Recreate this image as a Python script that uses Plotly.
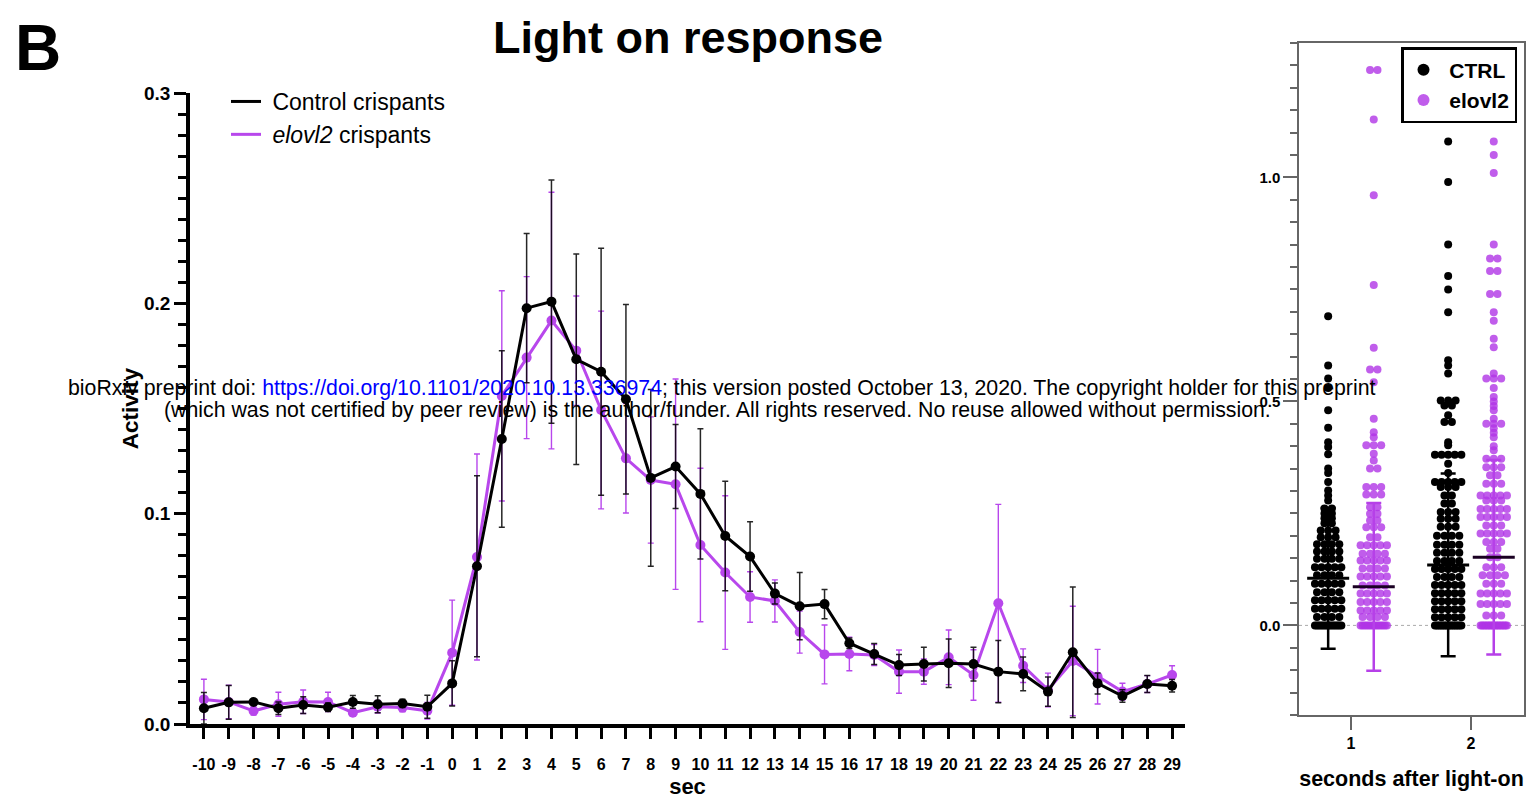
import plotly.graph_objects as go

# ---------------- Left panel data (Light on response) ----------------
sec = list(range(-10, 30))
ctrl_mean = [0.0075, 0.0103, 0.0105, 0.0075, 0.0090, 0.0080, 0.0105, 0.0094, 0.0098, 0.0082,
             0.0193, 0.0750, 0.1355, 0.1977, 0.2008, 0.1734, 0.1675, 0.1544, 0.1170, 0.1224,
             0.1094, 0.0894, 0.0796, 0.0620, 0.0560, 0.0570, 0.0384, 0.0333, 0.0280, 0.0285,
             0.0289, 0.0285, 0.0249, 0.0238, 0.0154, 0.0341, 0.0193, 0.0133, 0.0190, 0.0182]
ctrl_err = [0.0075, 0.0080, 0.0010, 0.0030, 0.0040, 0.0020, 0.0030, 0.0040, 0.0020, 0.0055,
            0.0108, 0.0430, 0.0420, 0.0355, 0.0578, 0.0500, 0.0587, 0.0450, 0.0420, 0.0200,
            0.0310, 0.0260, 0.0165, 0.0050, 0.0160, 0.0070, 0.0025, 0.0050, 0.0050, 0.0080,
            0.0115, 0.0080, 0.0148, 0.0080, 0.0070, 0.0310, 0.0050, 0.0030, 0.0040, 0.0030]
elovl_mean = [0.0117, 0.0105, 0.0062, 0.0094, 0.0106, 0.0105, 0.0054, 0.0082, 0.0078, 0.0063,
              0.0339, 0.0794, 0.1560, 0.1742, 0.1918, 0.1775, 0.1493, 0.1263, 0.1160, 0.1140,
              0.0851, 0.0720, 0.0604, 0.0585, 0.0437, 0.0331, 0.0333, 0.0328, 0.0249, 0.0249,
              0.0317, 0.0233, 0.0574, 0.0277, 0.0162, 0.0300, 0.0225, 0.0154, 0.0190, 0.0233]
elovl_err = [0.0096, 0.0080, 0.0020, 0.0057, 0.0056, 0.0046, 0.0010, 0.0030, 0.0020, 0.0040,
             0.0250, 0.0490, 0.0500, 0.0385, 0.0610, 0.0260, 0.0470, 0.0260, 0.0300, 0.0500,
             0.0365, 0.0365, 0.0120, 0.0100, 0.0100, 0.0140, 0.0080, 0.0050, 0.0103, 0.0060,
             0.0130, 0.0120, 0.0470, 0.0080, 0.0080, 0.0260, 0.0130, 0.0040, 0.0040, 0.0044]

# ---------------- Right panel data (seconds after light-on) ----------------
groups = [1, 2]
ctrl1_levels = [0.0, 0.019, 0.037, 0.056, 0.074, 0.093, 0.112, 0.130, 0.149, 0.165, 0.181, 0.197,
                0.212, 0.228, 0.239, 0.250, 0.261, 0.279, 0.290, 0.301, 0.320, 0.340, 0.350, 0.382,
                0.398, 0.409, 0.441, 0.480, 0.530, 0.551, 0.580, 0.690]
ctrl1_counts = [14, 4, 5, 5, 4, 5, 4, 5, 4, 4, 4, 3, 3, 2, 2, 2, 2, 1, 1, 1, 1, 1, 1, 1, 1, 1, 1, 1, 1, 1, 1, 1]
elovl1_levels = [0.0, 0.019, 0.033, 0.052, 0.071, 0.089, 0.109, 0.127, 0.145, 0.160, 0.179, 0.197,
                 0.219, 0.234, 0.249, 0.264, 0.292, 0.309, 0.350, 0.368, 0.383, 0.402, 0.420, 0.431,
                 0.461, 0.543, 0.571, 0.620, 0.760, 0.960, 1.129, 1.240]
elovl1_counts = [14, 4, 5, 5, 5, 4, 5, 4, 5, 4, 5, 2, 3, 2, 2, 2, 3, 3, 2, 1, 1, 3, 1, 1, 1, 1, 2, 1, 1, 1, 1, 2]
ctrl2_levels = [0.0, 0.018, 0.036, 0.054, 0.072, 0.090, 0.108, 0.126, 0.144, 0.162, 0.180, 0.200,
                0.220, 0.238, 0.253, 0.272, 0.290, 0.309, 0.320, 0.340, 0.361, 0.381, 0.402, 0.409,
                0.454, 0.469, 0.491, 0.502, 0.562, 0.580, 0.592, 0.699, 0.750, 0.780, 0.850, 0.990, 1.080]
ctrl2_counts = [16, 5, 5, 5, 5, 5, 4, 5, 4, 4, 4, 4, 3, 3, 3, 2, 2, 3, 5, 1, 1, 5, 1, 1, 2, 1, 2, 3,
                1, 1, 1, 1, 1, 1, 1, 1, 1]
elovl2_levels = [0.0, 0.022, 0.048, 0.071, 0.093, 0.112, 0.130, 0.152, 0.171, 0.186, 0.205, 0.223,
                 0.242, 0.260, 0.279, 0.290, 0.316, 0.335, 0.353, 0.372, 0.391, 0.400, 0.420, 0.430,
                 0.440, 0.450, 0.461, 0.480, 0.490, 0.500, 0.510, 0.530, 0.551, 0.562, 0.621, 0.640,
                 0.680, 0.699, 0.740, 0.791, 0.819, 0.850, 1.010, 1.050, 1.080]
elovl2_counts = [18, 3, 5, 5, 3, 4, 3, 2, 2, 3, 5, 3, 5, 5, 3, 5, 3, 2, 3, 3, 1, 1, 1, 1, 1, 3, 1, 1,
                 1, 1, 1, 1, 3, 1, 1, 1, 1, 1, 2, 2, 2, 1, 1, 1, 1]
ctrl_group_mean = [0.105, 0.135]
ctrl_group_sd = [0.157, 0.204]
elovl_group_mean = [0.086, 0.152]
elovl_group_sd = [0.187, 0.217]

BLACK = "#000000"
PURPLE = "#B847EC"
PURPLE_DOT = "rgba(176, 52, 230, 0.80)"
FONT = "Arial, Liberation Sans, sans-serif"
W, H = 1529, 803

def px_x(p):
    return p / W

def px_y(p):
    return 1 - p / H

def swarm(center, levels, counts, step=0.062, maxspan=0.22):
    xs, ys = [], []
    for v, n in zip(levels, counts):
        sp = step if n == 1 else min(step, maxspan / (n - 1))
        for i in range(n):
            xs.append(center + (i - (n - 1) / 2) * sp)
            ys.append(v)
    return xs, ys

fig = go.Figure()

# ---- left panel ----
fig.add_trace(go.Scatter(
    x=sec, y=elovl_mean, mode="lines+markers", showlegend=False,
    line=dict(color=PURPLE, width=3), marker=dict(color=PURPLE, size=10),
    error_y=dict(type="data", array=elovl_err, visible=True, color=PURPLE, thickness=1.4, width=3),
    cliponaxis=False, xaxis="x", yaxis="y"))
fig.add_trace(go.Scatter(
    x=sec, y=ctrl_mean, mode="lines+markers", showlegend=False,
    line=dict(color=BLACK, width=3), marker=dict(color=BLACK, size=10),
    error_y=dict(type="data", array=ctrl_err, visible=True, color="rgba(0,0,0,0.85)", thickness=1.5, width=3),
    cliponaxis=False, xaxis="x", yaxis="y"))
# legend entries (line only)
fig.add_trace(go.Scatter(x=[None], y=[None], mode="lines", name="&nbsp;Control crispants",
                         line=dict(color=BLACK, width=3), legend="legend", xaxis="x", yaxis="y"))
fig.add_trace(go.Scatter(x=[None], y=[None], mode="lines", name="&nbsp;<i>elovl2</i> crispants",
                         line=dict(color=PURPLE, width=3), legend="legend", xaxis="x", yaxis="y"))

# ---- right panel ----
offset = 0.19
cx, cy = [], []
ex, ey = [], []
for g, (lv, ct) in zip(groups, [(ctrl1_levels, ctrl1_counts), (ctrl2_levels, ctrl2_counts)]):
    a, b = swarm(g - offset, lv, ct)
    cx += a; cy += b
for g, (lv, ct) in zip(groups, [(elovl1_levels, elovl1_counts), (elovl2_levels, elovl2_counts)]):
    a, b = swarm(g + offset, lv, ct)
    ex += a; ey += b

fig.add_trace(go.Scatter(x=cx, y=cy, mode="markers", name="&nbsp;CTRL", legend="legend2",
                         marker=dict(color=BLACK, size=8), xaxis="x2", yaxis="y2", cliponaxis=False))
fig.add_trace(go.Scatter(x=ex, y=ey, mode="markers", name="&nbsp;elovl2", legend="legend2",
                         marker=dict(color=PURPLE_DOT, size=8), xaxis="x2", yaxis="y2", cliponaxis=False))
# mean +- SD
fig.add_trace(go.Scatter(
    x=[g - offset for g in groups], y=ctrl_group_mean, mode="markers", showlegend=False,
    marker=dict(symbol="line-ew", size=30, color=BLACK, line=dict(color=BLACK, width=3)),
    error_y=dict(type="data", array=ctrl_group_sd, visible=True, color=BLACK, thickness=2.5, width=7.5),
    xaxis="x2", yaxis="y2", cliponaxis=False))
fig.add_trace(go.Scatter(
    x=[g + offset for g in groups], y=elovl_group_mean, mode="markers", showlegend=False,
    marker=dict(symbol="line-ew", size=30, color="#1a0022", line=dict(color="#1a0022", width=3)),
    error_y=dict(type="data", array=elovl_group_sd, visible=True, color="#B640E8", thickness=2.5, width=7.5),
    xaxis="x2", yaxis="y2", cliponaxis=False))

axis_gray = "#666666"
fig.update_layout(
    template="none",
    width=W, height=H,
    margin=dict(l=0, r=0, t=0, b=0, pad=0),
    paper_bgcolor="white", plot_bgcolor="white",
    font=dict(family=FONT, color="black"),
    title=dict(text="<b>Light on response</b>", x=px_x(688), xanchor="center",
               y=px_y(37), yanchor="middle", yref="container",
               font=dict(size=45, family=FONT, color="black")),
    xaxis=dict(domain=[px_x(190), px_x(1185)], range=[-10.56, 29.52], automargin=False,
               tickvals=sec, ticktext=[str(s) for s in sec],
               ticks="outside", ticklen=11, tickwidth=3, tickcolor="black",
               ticklabelstandoff=12,
               showline=True, linewidth=3.5, linecolor="black", showgrid=False, zeroline=False,
               tickfont=dict(size=16, family=FONT, weight="bold"),
               title=dict(text="<b>sec</b>", font=dict(size=22, family=FONT), standoff=8),
               anchor="y"),
    yaxis=dict(domain=[px_y(724), px_y(93)], range=[0, 0.3], automargin=False,
               tickvals=[0, 0.1, 0.2, 0.3], ticktext=["0.0", "0.1", "0.2", "0.3"],
               ticks="outside", ticklen=12, tickwidth=3, tickcolor="black",
               minor=dict(dtick=0.01, tick0=0, ticks="outside", ticklen=8, tickwidth=3, tickcolor="black",
                          showgrid=False),
               showline=True, linewidth=3.5, linecolor="black", showgrid=False, zeroline=False,
               tickfont=dict(size=19, family=FONT, weight="bold"),
               title=dict(text="<b>Activity</b>", font=dict(size=22.5, family=FONT), standoff=0),
               anchor="x"),
    xaxis2=dict(domain=[px_x(1299), px_x(1524)], range=[0.567, 2.442], automargin=False,
                tickvals=groups, ticktext=[str(g) for g in groups],
                ticks="outside", ticklen=13, tickwidth=1.5, tickcolor=axis_gray,
                showline=True, linewidth=1.5, linecolor=axis_gray, mirror=True,
                showgrid=False, zeroline=False,
                tickfont=dict(size=16, family=FONT, weight="bold"),
                title=dict(text="<b>seconds after light-on</b>", font=dict(size=21.5, family=FONT), standoff=20),
                anchor="y2"),
    yaxis2=dict(domain=[px_y(715), px_y(43)], range=[-0.2, 1.3], automargin=False,
                tickvals=[0, 0.5, 1.0], ticktext=["0.0", "0.5", "1.0"],
                ticks="outside", ticklen=14, tickwidth=1.5, tickcolor=axis_gray,
                minor=dict(dtick=0.05, tick0=0, ticks="outside", ticklen=7, tickwidth=1.5, tickcolor=axis_gray,
                           showgrid=False),
                showline=True, linewidth=1.5, linecolor=axis_gray, mirror=True,
                showgrid=False, zeroline=False,
                tickfont=dict(size=15, family=FONT, weight="bold"),
                anchor="x2"),
    legend=dict(x=px_x(226), y=px_y(80), xanchor="left", yanchor="top",
                bgcolor="rgba(0,0,0,0)", borderwidth=0,
                font=dict(size=23, family=FONT, color="black"), tracegroupgap=0, itemwidth=30),
    legend2=dict(x=px_x(1401), y=px_y(47), xanchor="left", yanchor="top",
                 bgcolor="white", bordercolor="black", borderwidth=2.5,
                 font=dict(size=21, family=FONT, color="black", weight="bold"),
                 itemsizing="constant"),
    shapes=[dict(type="line", xref="x2 domain", yref="y2", x0=0, x1=1, y0=0, y1=0,
                 line=dict(color="#aaaaaa", width=1, dash="dot"), layer="below")],
    annotations=[
        dict(text="<b>B</b>", x=px_x(38), y=px_y(48), xref="paper", yref="paper",
             showarrow=False, font=dict(size=64, family=FONT, color="black"),
             xanchor="center", yanchor="middle"),
        dict(text="bioRxiv preprint doi: <span style='color:#0000ff'>https://doi.org/10.1101/2020.10.13.336974</span>; "
                  "this version posted October 13, 2020. The copyright holder for this preprint",
             x=px_x(722), y=px_y(388), xref="paper", yref="paper", showarrow=False,
             font=dict(size=21.3, family=FONT, color="black"), xanchor="center", yanchor="middle"),
        dict(text="(which was not certified by peer review) is the author/funder. All rights reserved. "
                  "No reuse allowed without permission.",
             x=px_x(717), y=px_y(410), xref="paper", yref="paper", showarrow=False,
             font=dict(size=21.3, family=FONT, color="black"), xanchor="center", yanchor="middle"),
    ],
)

fig.write_html("out.html", post_script="document.body.style.margin='0';",
               config={"displayModeBar": False})
